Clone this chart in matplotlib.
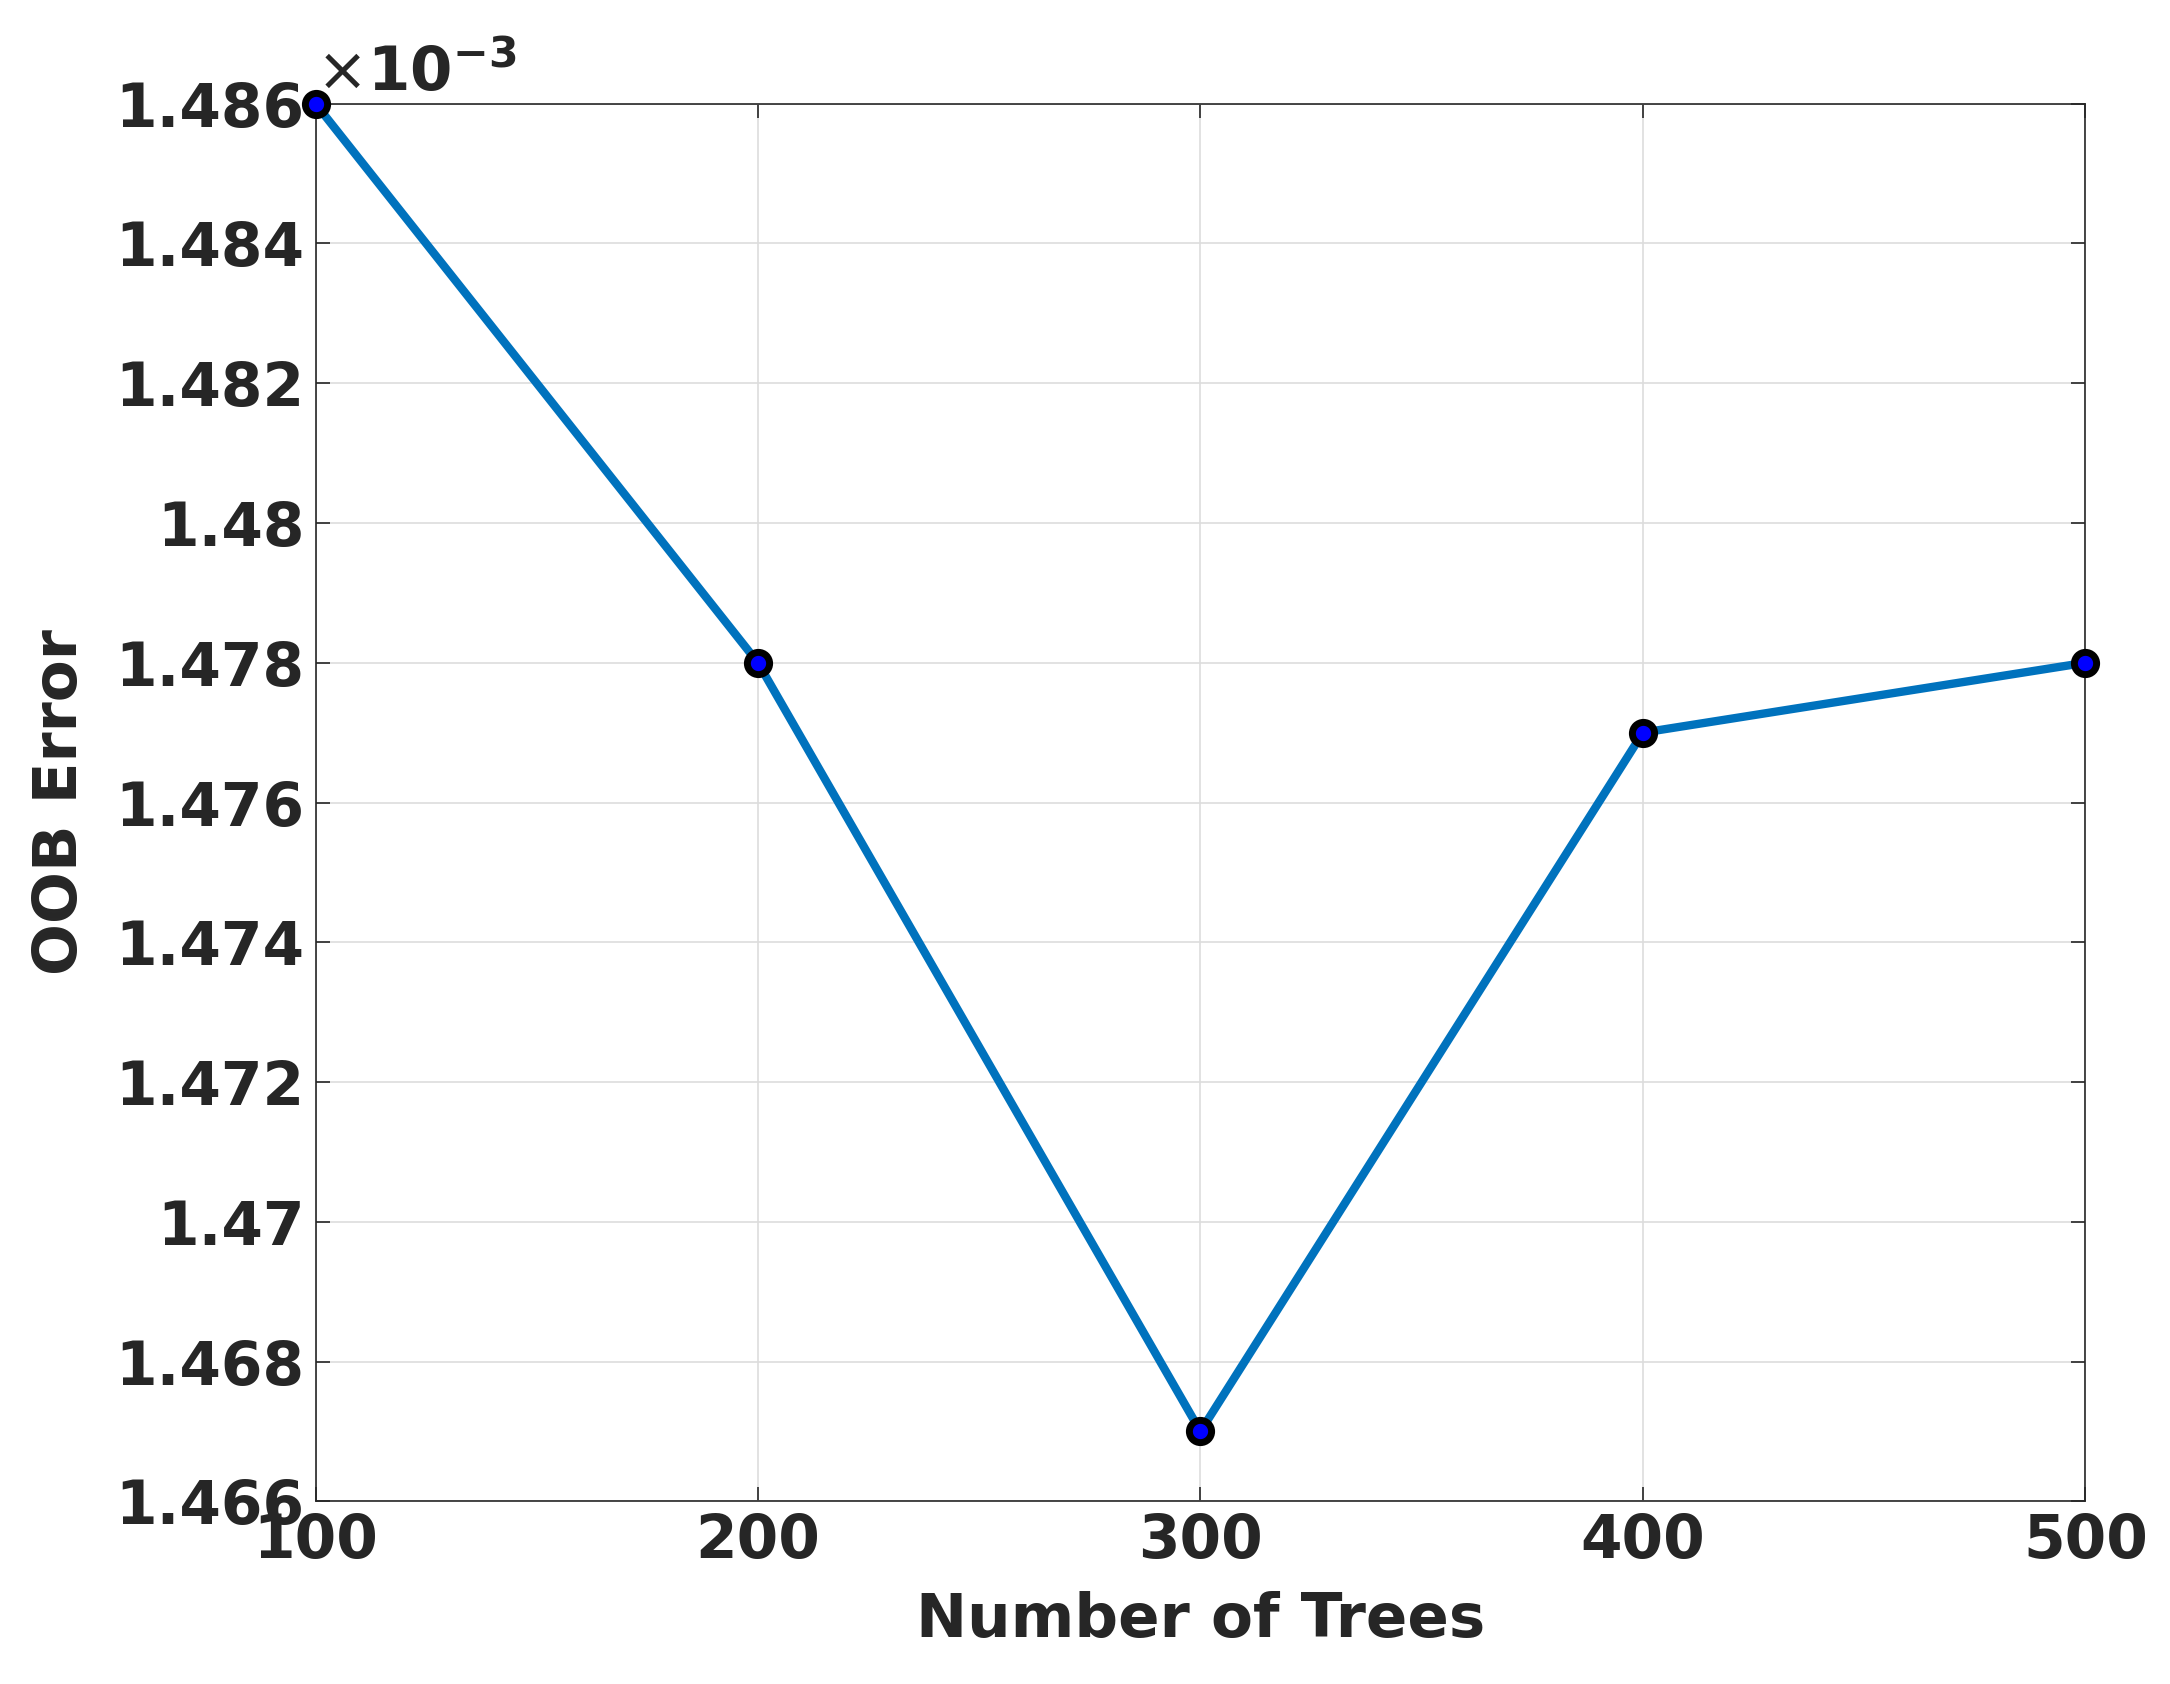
import matplotlib
matplotlib.use("Agg")
import matplotlib.pyplot as plt

# data (OOB error, in units of 1e-3)
n_trees = [100, 200, 300, 400, 500]
oob_err = [1.486, 1.478, 1.467, 1.477, 1.478]
y_ticks = [1.466, 1.468, 1.47, 1.472, 1.474, 1.476, 1.478, 1.48, 1.482, 1.484, 1.486]
y_labels = ["1.466", "1.468", "1.47", "1.472", "1.474", "1.476", "1.478", "1.48", "1.482", "1.484", "1.486"]

fig = plt.figure(figsize=(21.7, 16.84), dpi=100)
ax = fig.add_axes([0.1454, 0.1085, 0.8156, 0.8299])

ax.plot(n_trees, oob_err, color='#0072BD', linewidth=6, marker='o',
        markersize=16, markerfacecolor='blue', markeredgecolor='black',
        markeredgewidth=5, clip_on=False, zorder=3)

ax.set_xlim(100, 500)
ax.set_ylim(1.466, 1.486)
ax.set_xticks(n_trees)
ax.set_yticks(y_ticks)
ax.set_yticklabels(y_labels)
ax.grid(True, color='#dddddd', linewidth=1.2)
ax.tick_params(labelsize=43, width=1.2, length=10, direction='in',
               colors='#262626', top=True, right=True, pad=8)
for lbl in ax.get_xticklabels() + ax.get_yticklabels():
    lbl.set_fontweight('bold')
for s in ax.spines.values():
    s.set_color('#262626')
    s.set_linewidth(1.2)

ax.set_xlabel("Number of Trees", fontsize=44, fontweight='bold', color='#262626', labelpad=14)
ax.set_ylabel("OOB Error", fontsize=44, fontweight='bold', color='#262626', labelpad=18)
ax.text(0.0, 1.0, r"$\times$10$^{\mathregular{-3}}$", transform=ax.transAxes,
        fontsize=44, fontweight='bold', color='#262626', ha='left', va='bottom')

fig.savefig("out.png", dpi=100)
